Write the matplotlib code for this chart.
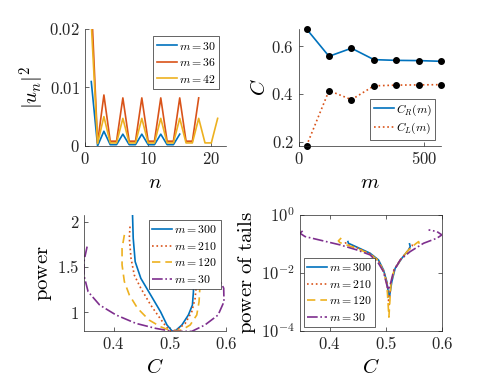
import numpy as np
import matplotlib
matplotlib.use('Agg')
import matplotlib.pyplot as plt

plt.rcParams['mathtext.fontset'] = 'cm'
plt.rcParams['font.family'] = 'serif'
plt.rcParams['font.serif'] = ['DejaVu Serif']

# matlab default colours
blue = '#0072BD'
orange = '#D95319'
yellow = '#EDB120'
purple = '#7E2F8E'
axcol = '#262626'

# --- top left: |u_n|^2 against n
n30 = np.arange(1, 16)
u30 = [0.011, 0.0, 0.0025, 0.0002, 0.0002, 0.002, 0.0002, 0.0002, 0.002,
       0.0002, 0.0002, 0.002, 0.0002, 0.0002, 0.002]
n36 = np.arange(1, 19)
u36 = [0.025, 0.0005, 0.0087, 0.0008, 0.0008, 0.0082, 0.0008, 0.0008, 0.0082,
       0.0008, 0.0008, 0.0082, 0.0008, 0.0008, 0.0082, 0.0008, 0.0008, 0.0082]
n42 = np.arange(1, 22)
u42 = [0.021, 0.0004, 0.005, 0.0005, 0.0005, 0.0047, 0.0005, 0.0005, 0.0047,
       0.0005, 0.0005, 0.0047, 0.0005, 0.0005, 0.0047, 0.0005, 0.0005, 0.0047,
       0.0005, 0.0005, 0.0047]

# --- top right: C_R, C_L against m
m_vals = [30, 120, 210, 300, 390, 480, 570]
C_R = [0.673, 0.558, 0.592, 0.544, 0.541, 0.540, 0.537]
C_L = [0.182, 0.414, 0.376, 0.434, 0.437, 0.438, 0.439]

# --- bottom left: power against C
p300_C = [0.4333, 0.4345, 0.438, 0.448, 0.4656, 0.483, 0.4945, 0.5035, 0.509,
          0.521, 0.5325, 0.5397, 0.5415, 0.5418, 0.543]
p300_P = [2.074, 1.817, 1.558, 1.375, 1.19, 1.007, 0.86, 0.794, 0.794,
          0.86, 0.97, 1.08, 1.227, 1.357, 1.6]
p210_C = [0.4288, 0.4276, 0.4306, 0.4364, 0.448, 0.4656, 0.48, 0.4931, 0.5005,
          0.5123, 0.527, 0.5386, 0.5445, 0.5474, 0.548]
p210_P = [1.945, 1.817, 1.596, 1.41, 1.265, 1.08, 0.952, 0.841, 0.794,
          0.805, 0.878, 1.007, 1.154, 1.338, 1.6]
p120_C = [0.4188, 0.4147, 0.4147, 0.4188, 0.4276, 0.4422, 0.4626, 0.483, 0.4977,
          0.5064, 0.521, 0.5357, 0.5474, 0.5515, 0.5532, 0.5535]
p120_P = [1.853, 1.706, 1.522, 1.338, 1.191, 1.044, 0.915, 0.841, 0.805,
          0.794, 0.805, 0.86, 0.97, 1.117, 1.301, 1.5]
p30_C = [0.3526, 0.3468, 0.3468, 0.3544, 0.3749, 0.4041, 0.4392, 0.4743, 0.5035,
         0.5386, 0.5619, 0.5853, 0.5958, 0.5953, 0.5853, 0.5766, 0.575]
p30_P = [1.724, 1.558, 1.41, 1.227, 1.08, 0.97, 0.878, 0.823, 0.79,
         0.79, 0.86, 0.97, 1.117, 1.265, 1.393, 1.448, 1.6]

# --- bottom right: power of tails against C
t300_C = [0.4325, 0.4333, 0.45, 0.472, 0.4869, 0.4958, 0.5018, 0.5054, 0.5065,
          0.5107, 0.5167, 0.5286, 0.5405, 0.5435, 0.5423]
t300_P = [0.12, 0.105, 0.075, 0.0476, 0.028, 0.0127, 0.005, 0.0015, 0.0015,
          0.005, 0.0145, 0.032, 0.062, 0.081, 0.1]
t210_C = [0.428, 0.4288, 0.45, 0.472, 0.487, 0.496, 0.502, 0.5055, 0.509,
          0.5145, 0.527, 0.54, 0.547, 0.548]
t210_P = [0.115, 0.1, 0.072, 0.046, 0.027, 0.012, 0.0045, 0.0008, 0.0045,
          0.013, 0.03, 0.06, 0.085, 0.105]
t120_C = [0.4205, 0.4154, 0.4184, 0.45, 0.472, 0.487, 0.496, 0.502, 0.5055,
          0.509, 0.5145, 0.527, 0.54, 0.553, 0.5585, 0.5596]
t120_P = [0.16, 0.127, 0.11, 0.068, 0.044, 0.026, 0.011, 0.004, 0.0003,
          0.004, 0.012, 0.03, 0.06, 0.1, 0.12, 0.1]
t30_C = [0.3517, 0.347, 0.3559, 0.4184, 0.4482, 0.472, 0.4869, 0.4958, 0.5018,
         0.5048, 0.5077, 0.5137, 0.5256, 0.5435, 0.5673, 0.5911, 0.600, 0.5911, 0.5762]
t30_P = [0.28, 0.233, 0.179, 0.0925, 0.0621, 0.0418, 0.0215, 0.0111, 0.00385,
         0.0026, 0.00385, 0.0111, 0.028, 0.0544, 0.105, 0.157, 0.204, 0.266, 0.304]


def style(ax, box=False):
    for s in ['top', 'right']:
        ax.spines[s].set_visible(box)
    for s in ax.spines.values():
        s.set_linewidth(0.5)
        s.set_color(axcol)
    ax.tick_params(which='both', direction='in', length=3, width=0.5,
                   colors=axcol, labelsize=12, top=box, right=box)
    ax.tick_params(which='minor', length=1.5)


def leg(ax, loc, **kw):
    l = ax.legend(loc=loc, fontsize=8.5, frameon=True, fancybox=False,
                  framealpha=1, edgecolor=axcol, borderpad=0.3,
                  labelspacing=0.3, handlelength=1.7, handletextpad=0.15,
                  borderaxespad=0.3, **kw)
    l.get_frame().set_linewidth(0.5)
    return l


fig = plt.figure(figsize=(4.91, 3.91), dpi=100)
lw = 1.2

# top left
ax1 = fig.add_axes([0.173, 0.627, 0.287, 0.299])
ax1.plot(n30, u30, color=blue, lw=lw, label=r'$m=30$')
ax1.plot(n36, u36, color=orange, lw=lw, label=r'$m=36$')
ax1.plot(n42, u42, color=yellow, lw=lw, label=r'$m=42$')
ax1.set_xlim(0, 22.3)
ax1.set_ylim(0, 0.02)
ax1.set_xticks([0, 10, 20])
ax1.set_xticklabels([r'$0$', r'$10$', r'$20$'])
ax1.set_yticks([0, 0.01, 0.02])
ax1.set_yticklabels([r'$0$', r'$0.01$', r'$0.02$'])
ax1.set_xlabel(r'$n$', fontsize=15)
ax1.set_ylabel(r'$|u_n|^2$', fontsize=15, labelpad=2)
style(ax1)
leg(ax1, 'upper right', bbox_to_anchor=(0.98, 0.97))

# top right
ax2 = fig.add_axes([0.609, 0.627, 0.290, 0.299])
ax2.plot(m_vals, C_R, color=blue, lw=lw, label=r'$C_R(m)$')
ax2.plot(m_vals, C_L, color=orange, lw=lw, ls=':', label=r'$C_L(m)$')
ax2.plot(m_vals, C_R, 'o', color='k', ms=4, clip_on=False)
ax2.plot(m_vals, C_L, 'o', color='k', ms=4, clip_on=False)
ax2.set_xlim(0, 570)
ax2.set_ylim(0.182, 0.673)
ax2.set_xticks([0, 500])
ax2.set_xticklabels([r'$0$', r'$500$'])
ax2.set_yticks([0.2, 0.4, 0.6])
ax2.set_yticklabels([r'$0.2$', r'$0.4$', r'$0.6$'])
ax2.set_xlabel(r'$m$', fontsize=15)
ax2.set_ylabel(r'$C$', fontsize=15, labelpad=2)
style(ax2)
leg(ax2, 'lower right', bbox_to_anchor=(0.98, 0.02))

# bottom left
ax3 = fig.add_axes([0.171, 0.1535, 0.290, 0.297])
ax3.plot(p300_C, p300_P, color=blue, lw=lw, label=r'$m=300$')
ax3.plot(p210_C, p210_P, color=orange, lw=lw, ls=':', label=r'$m=210$')
ax3.plot(p120_C, p120_P, color=yellow, lw=lw, ls=(0, (5, 3)), label=r'$m=120$')
ax3.plot(p30_C, p30_P, color=purple, lw=lw, ls='-.', label=r'$m=30$')
ax3.set_xlim(0.347, 0.6)
ax3.set_ylim(0.794, 2.074)
ax3.set_xticks([0.4, 0.5, 0.6])
ax3.set_xticklabels([r'$0.4$', r'$0.5$', r'$0.6$'])
ax3.set_yticks([1, 1.5, 2])
ax3.set_yticklabels([r'$1$', r'$1.5$', r'$2$'])
ax3.set_xlabel(r'$C$', fontsize=15)
ax3.set_ylabel(r'$\mathrm{power}$', fontsize=15, labelpad=2)
style(ax3)
leg(ax3, 'upper right', bbox_to_anchor=(0.985, 0.99))

# bottom right
ax4 = fig.add_axes([0.611, 0.1535, 0.289, 0.297])
ax4.semilogy(t300_C, t300_P, color=blue, lw=lw, label=r'$m=300$')
ax4.semilogy(t210_C, t210_P, color=orange, lw=lw, ls=':', label=r'$m=210$')
ax4.semilogy(t120_C, t120_P, color=yellow, lw=lw, ls=(0, (5, 3)), label=r'$m=120$')
ax4.semilogy(t30_C, t30_P, color=purple, lw=lw, ls='-.', label=r'$m=30$')
ax4.set_xlim(0.347, 0.6)
ax4.set_ylim(1e-4, 1)
ax4.set_xticks([0.4, 0.5, 0.6])
ax4.set_xticklabels([r'$0.4$', r'$0.5$', r'$0.6$'])
ax4.set_yticks([1e-4, 1e-2, 1])
ax4.set_yticklabels([r'$10^{-4}$', r'$10^{-2}$', r'$10^{0}$'])
ax4.set_xlabel(r'$C$', fontsize=15)
ax4.set_ylabel(r'$\mathrm{power\ of\ tails}$', fontsize=15, labelpad=2)
style(ax4, box=True)
ax4.yaxis.set_minor_locator(matplotlib.ticker.NullLocator())
leg(ax4, 'lower left', bbox_to_anchor=(0.0, 0.0))

fig.savefig('out.png', dpi=100)
